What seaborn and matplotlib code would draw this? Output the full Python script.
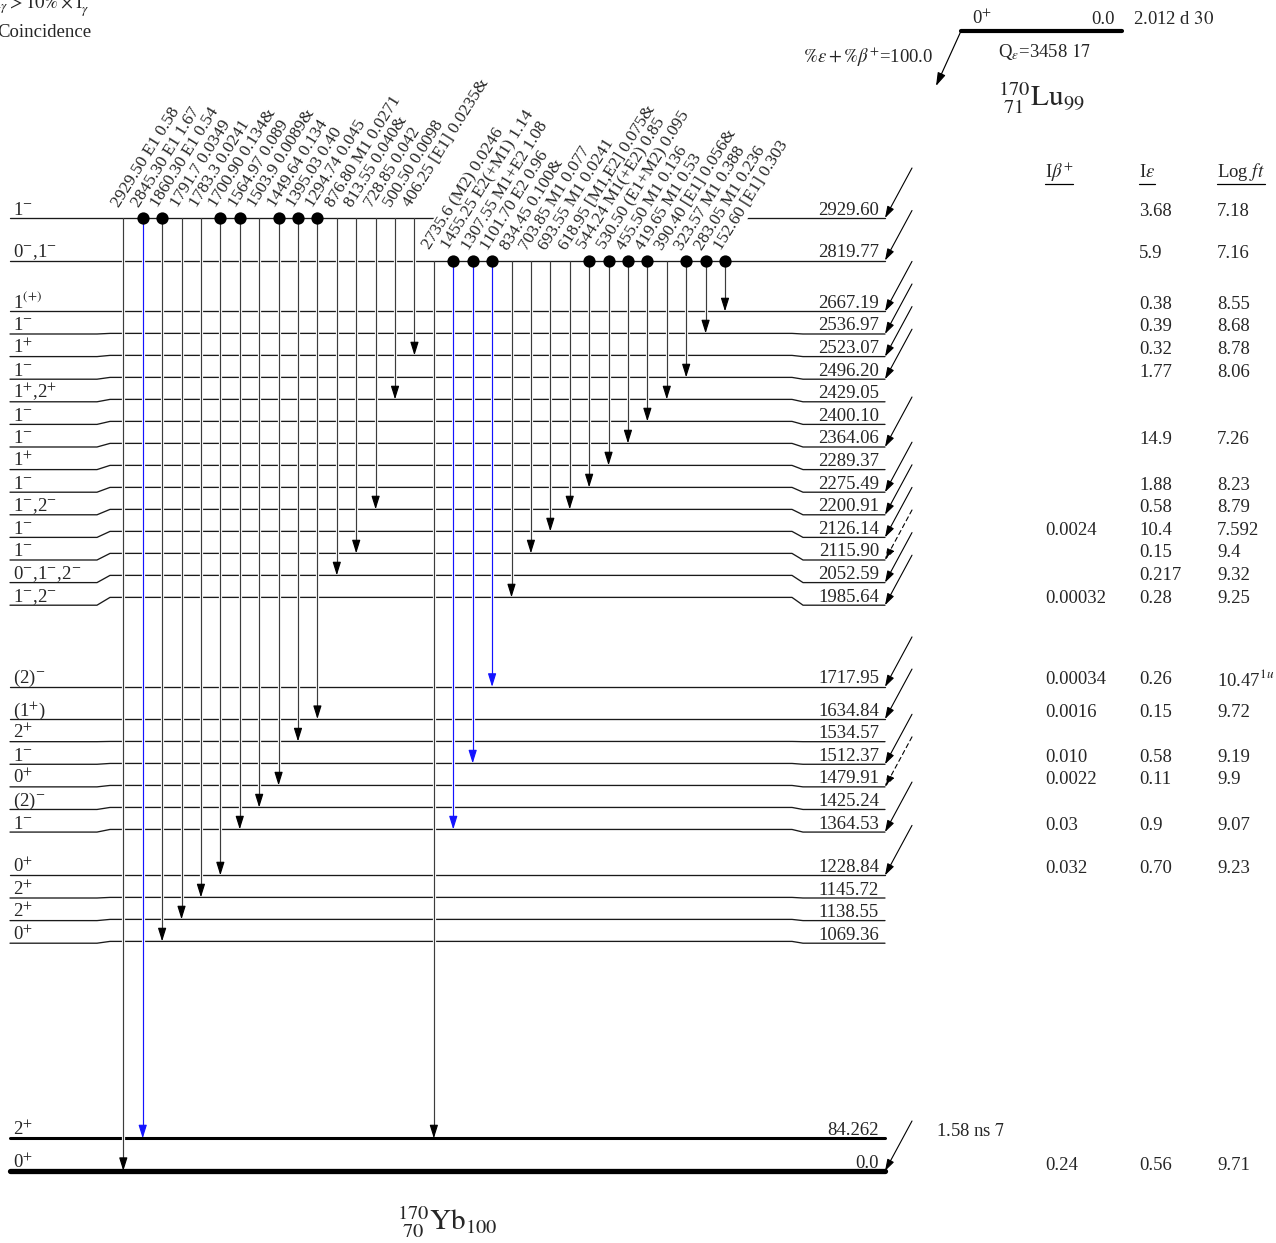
import numpy as np
import pandas as pd
import matplotlib
matplotlib.use("Agg")
import matplotlib.pyplot as plt
import seaborn as sns

# ---------------- 170Lu -> 170Yb decay data ----------------
level_text = ["2929.60", "2819.77", "2667.19", "2536.97", "2523.07", "2496.20",
              "2429.05", "2400.10", "2364.06", "2289.37", "2275.49", "2200.91",
              "2126.14", "2115.90", "2052.59", "1985.64", "1717.95", "1634.84",
              "1534.57", "1512.37", "1479.91", "1425.24", "1364.53", "1228.84",
              "1145.72", "1138.55", "1069.36", "84.262", "0.0"]
level_energy = [float(s) for s in level_text]
level_spin = [r"1$^{-}$", r"0$^{-}$,1$^{-}$", r"1$^{(+)}$", r"1$^{-}$", r"1$^{+}$",
              r"1$^{-}$", r"1$^{+}$,2$^{+}$", r"1$^{-}$", r"1$^{-}$", r"1$^{+}$",
              r"1$^{-}$", r"1$^{-}$,2$^{-}$", r"1$^{-}$", r"1$^{-}$",
              r"0$^{-}$,1$^{-}$,2$^{-}$", r"1$^{-}$,2$^{-}$", r"(2)$^{-}$",
              r"(1$^{+}$)", r"2$^{+}$", r"1$^{-}$", r"0$^{+}$", r"(2)$^{-}$",
              r"1$^{-}$", r"0$^{+}$", r"2$^{+}$", r"2$^{+}$", r"0$^{+}$",
              r"2$^{+}$", r"0$^{+}$"]
level_ibeta = ["", "", "", "", "", "", "", "", "", "", "", "", "0.0024", "", "",
               "0.00032", "0.00034", "0.0016", "", "0.010", "0.0022", "", "0.03",
               "0.032", "", "", "", "", "0.24"]
level_ieps = ["3.68", "5.9", "0.38", "0.39", "0.32", "1.77", "", "", "14.9", "",
              "1.88", "0.58", "10.4", "0.15", "0.217", "0.28", "0.26", "0.15", "",
              "0.58", "0.11", "", "0.9", "0.70", "", "", "", "", "0.56"]
level_logft = ["7.18", "7.16", "8.55", "8.68", "8.78", "8.06", "", "", "7.26", "",
               "8.23", "8.79", "7.592", "9.4", "9.32", "9.25", r"10.47$^{1u}$",
               "9.72", "", "9.19", "9.9", "", "9.07", "9.23", "", "", "", "", "9.71"]
tentative_feeding = ["2115.90", "1479.91"]
halflife_level = "84.262"
halflife_text = r"1.58 ns $\mathit{7}$"

parent_spin = r"0$^{+}$"
parent_energy = "0.0"
parent_halflife = r"2.012 d $\mathit{30}$"
q_value = r"Q$_{\varepsilon}$=3458 $\mathit{17}$"
branching = r"$\%\varepsilon+\%\beta^{+}$=100.0"

gamma_energy = ["2929.50", "2845.30", "1860.30", "1791.7", "1783.3", "1700.90",
                "1564.97", "1503.9", "1449.64", "1395.03", "1294.74", "876.80",
                "813.55", "728.85", "500.50", "406.25",
                "2735.6", "1455.25", "1307.55", "1101.70", "834.45", "703.85",
                "693.55", "618.95", "544.24", "530.50", "455.50", "419.65",
                "390.40", "323.57", "283.05", "152.60"]
gamma_mult = ["E1", "E1", "E1", "", "", "", "", "", "", "", "", "M1", "", "", "",
              "[E1]",
              "(M2)", "E2(+M1)", "M1+E2", "E2", "", "M1", "M1", "[M1,E2]",
              "M1(+E2)", "(E1+M2)", "M1", "M1", "[E1]", "M1", "M1", "[E1]"]
gamma_intensity = ["0.58", "1.67", "0.54", "0.0349", "0.0241", "0.134", "0.089",
                   "0.0089", "0.134", "0.40", "0.045", "0.0271", "0.040", "0.042",
                   "0.0098", "0.0235",
                   "0.0246", "1.14", "1.08", "0.96", "0.100", "0.077", "0.0241",
                   "0.075", "0.85", "0.095", "0.136", "0.53", "0.056", "0.388",
                   "0.236", "0.303"]
gamma_flag = ["", "", "", "", "", "&", "", "&", "", "", "", "", "&", "", "", "&",
              "", "", "", "", "&", "", "", "&", "", "", "", "", "&", "", "", ""]
gamma_from = ["2929.60"] * 16 + ["2819.77"] * 16
gamma_to = ["0.0", "84.262", "1069.36", "1138.55", "1145.72", "1228.84", "1364.53",
            "1425.24", "1479.91", "1534.57", "1634.84", "2052.59", "2115.90",
            "2200.91", "2429.05", "2523.07",
            "84.262", "1364.53", "1512.37", "1717.95", "1985.64", "2115.90",
            "2126.14", "2200.91", "2275.49", "2289.37", "2364.06", "2400.10",
            "2429.05", "2496.20", "2536.97", "2667.19"]
gamma_coincidence = [False, True, True, False, False, True, True, False, True, True,
                     True, False, False, False, False, False,
                     False, True, True, True, False, False, False, False, True,
                     True, True, True, False, True, True, True]

# ---------------- style ----------------
sns.set_theme(style="white")
plt.rcParams["font.family"] = ["Liberation Serif", "DejaVu Serif"]
plt.rcParams["mathtext.fontset"] = "stix"

fig = plt.figure(figsize=(12.76, 12.43), dpi=100)
ax = fig.add_axes([0, 0, 1, 1])
ax.set_xlim(0, 1276)
ax.set_ylim(1243, 0)
ax.axis("off")

FS = 13.5
LEVEL_COLOR = "#1a1a1a"
GAMMA_GREY = "#3c3c3c"
GAMMA_BLUE = "#1414ff"


def spread(base, gap):
    """Closest ordered positions to `base` keeping at least `gap` between neighbours."""
    n = len(base)
    z = np.asarray(base, float) - gap * np.arange(n)
    sums, counts = [], []
    for v in z:
        sums.append(v)
        counts.append(1)
        while len(sums) > 1 and sums[-2] / counts[-2] > sums[-1] / counts[-1]:
            s = sums.pop()
            c = counts.pop()
            sums[-1] += s
            counts[-1] += c
    fit = np.repeat([s / c for s, c in zip(sums, counts)], counts)
    return fit + gap * np.arange(n)


# vertical layout: energy scale with minimum spacing, broken below 1 MeV
E = np.array(level_energy)
upper = E > 1000
scale = 0.387
mid = np.empty(len(E))
mid[upper] = spread(218 + scale * (E[0] - E[upper]), 22.0)
mid[~upper] = 1171 - scale * E[~upper]
lab = mid.copy()
for i in range(1, int(upper.sum())):
    lab[i] = max(mid[i], lab[i - 1] + 22.6)
row = {t: i for i, t in enumerate(level_text)}

# horizontal layout
XL0, XL1, XM0, XM1, XR0, XR1 = 10, 97, 110, 792, 803, 885

# ---------------- levels ----------------
rows = []
for i in np.where(upper)[0]:
    for x, y in [(XL0, lab[i]), (XL1, lab[i]), (XM0, mid[i]), (XM1, mid[i]),
                 (XR0, lab[i]), (XR1, lab[i])]:
        rows.append({"level": level_text[i], "x": x, "y": y})
levels_df = pd.DataFrame(rows)
sns.lineplot(data=levels_df, x="x", y="y", units="level", estimator=None,
             sort=False, color=LEVEL_COLOR, lw=0.95, ax=ax, legend=False, zorder=2)
for i, lw in zip(np.where(~upper)[0], [2.2, 3.8]):
    ax.plot([XL0, XR1], [mid[i], mid[i]], color="black", lw=lw,
            solid_capstyle="round", zorder=2)

for i in range(len(E)):
    ax.text(XL0 + 3, lab[i] - 3.5, level_spin[i], fontsize=FS, ha="left",
            va="baseline", zorder=6)
    ax.text(XR1 - 6, lab[i] - 3.5, level_text[i], fontsize=FS, ha="right",
            va="baseline", zorder=6)

# ---------------- gamma transitions ----------------
gx = 123.3 + 19.41 * np.arange(len(gamma_energy))
dots_x, dots_y = [], []
for j in range(len(gamma_energy)):
    x = gx[j]
    y0 = mid[row[gamma_from[j]]]
    y1 = mid[row[gamma_to[j]]]
    strong = float(gamma_intensity[j]) > 0.9
    line_c = GAMMA_BLUE if strong else GAMMA_GREY
    head_c = GAMMA_BLUE if strong else "black"
    ax.plot([x, x], [y0 + 3, y1 - 3], color="white", lw=2.3, zorder=3,
            solid_capstyle="butt")
    ax.plot([x, x], [y0, y1 - 8], color=line_c, lw=0.85, zorder=4)
    ax.annotate("", xy=(x, y1), xytext=(x, y1 - 12),
                arrowprops=dict(arrowstyle="-|>,head_length=0.8,head_width=0.25",
                                mutation_scale=10, lw=0.85, color=head_c,
                                shrinkA=0, shrinkB=0), zorder=5)
    parts = [gamma_energy[j], gamma_mult[j], gamma_intensity[j] + gamma_flag[j]]
    label = " ".join(p for p in parts if p)
    ax.text(x - 4, y0 - 10, label, rotation=58, rotation_mode="anchor",
            ha="left", va="baseline", fontsize=12.5, zorder=6,
            bbox=dict(boxstyle="square,pad=0.1", fc="white", ec="none"))
    if gamma_coincidence[j]:
        dots_x.append(x)
        dots_y.append(y0)

sns.scatterplot(x=dots_x, y=dots_y, s=78, color="black", linewidth=0, ax=ax,
                legend=False, zorder=8)

# ---------------- feeding and intensities ----------------
for i in range(len(E)):
    if level_ieps[i]:
        ls = (0, (4, 3)) if level_text[i] in tentative_feeding else "-"
        ax.annotate("", xy=(XR1, lab[i]), xytext=(XR1 + 27, lab[i] - 50),
                    arrowprops=dict(arrowstyle="-|>,head_length=0.7,head_width=0.22",
                                    mutation_scale=10, lw=0.8, color="black",
                                    linestyle=ls, shrinkA=0, shrinkB=0), zorder=4)
    yv = lab[i] - (5 if i == len(E) - 1 else 7)
    for xcol, val in [(1045, level_ibeta[i]), (1139, level_ieps[i]),
                      (1217, level_logft[i])]:
        if val:
            ax.text(xcol, yv, val, fontsize=FS, ha="left", va="center", zorder=6)

hl = row[halflife_level]
ax.text(936, lab[hl] - 7, halflife_text, fontsize=FS, ha="left", va="center")

headers = [(1045, r"I$\beta^{+}$"), (1139, r"I$\varepsilon$"),
           (1217, r"Log $\mathit{ft}$")]
header_artists = [ax.text(xh, 172, t, fontsize=FS, ha="left", va="center")
                  for xh, t in headers]
fig.canvas.draw()
inv = ax.transData.inverted()
for t in header_artists:
    bb = t.get_window_extent()
    (xa, _), (xb, _) = inv.transform([(bb.x0, bb.y0), (bb.x1, bb.y0)])
    ax.plot([xa, xb], [184, 184], color="black", lw=0.9)

# ---------------- parent ----------------
ax.plot([961, 1122], [31, 31], color="black", lw=3.0, solid_capstyle="round")
ax.annotate("", xy=(936, 86), xytext=(961, 31),
            arrowprops=dict(arrowstyle="-|>,head_length=0.8,head_width=0.25",
                            mutation_scale=10, lw=0.85, color="black",
                            shrinkA=0, shrinkB=0))
ax.text(972, 24, parent_spin, fontsize=FS, ha="left", va="baseline")
ax.text(1115, 24, parent_energy, fontsize=FS, ha="right", va="baseline")
ax.text(1133, 24, parent_halflife, fontsize=FS, ha="left", va="baseline")
ax.text(998, 51, q_value, fontsize=FS, ha="left", va="center")
ax.text(933, 57, branching, fontsize=FS, ha="right", va="center")
ax.text(1041, 98, r"${}^{170}_{\ 71}\mathrm{Lu}_{99}$", fontsize=21,
        ha="center", va="center")
ax.text(447, 1222, r"${}^{170}_{\ 70}\mathrm{Yb}_{100}$", fontsize=21,
        ha="center", va="center")

# ---------------- key ----------------
ax.text(-6, 6, r"I$_{\gamma}>10\%\times$I$_{\gamma}^{max}$", fontsize=FS,
        ha="left", va="center")
ax.text(-3, 32, "Coincidence", fontsize=FS, ha="left", va="center")

fig.savefig("out.png", dpi=100)
